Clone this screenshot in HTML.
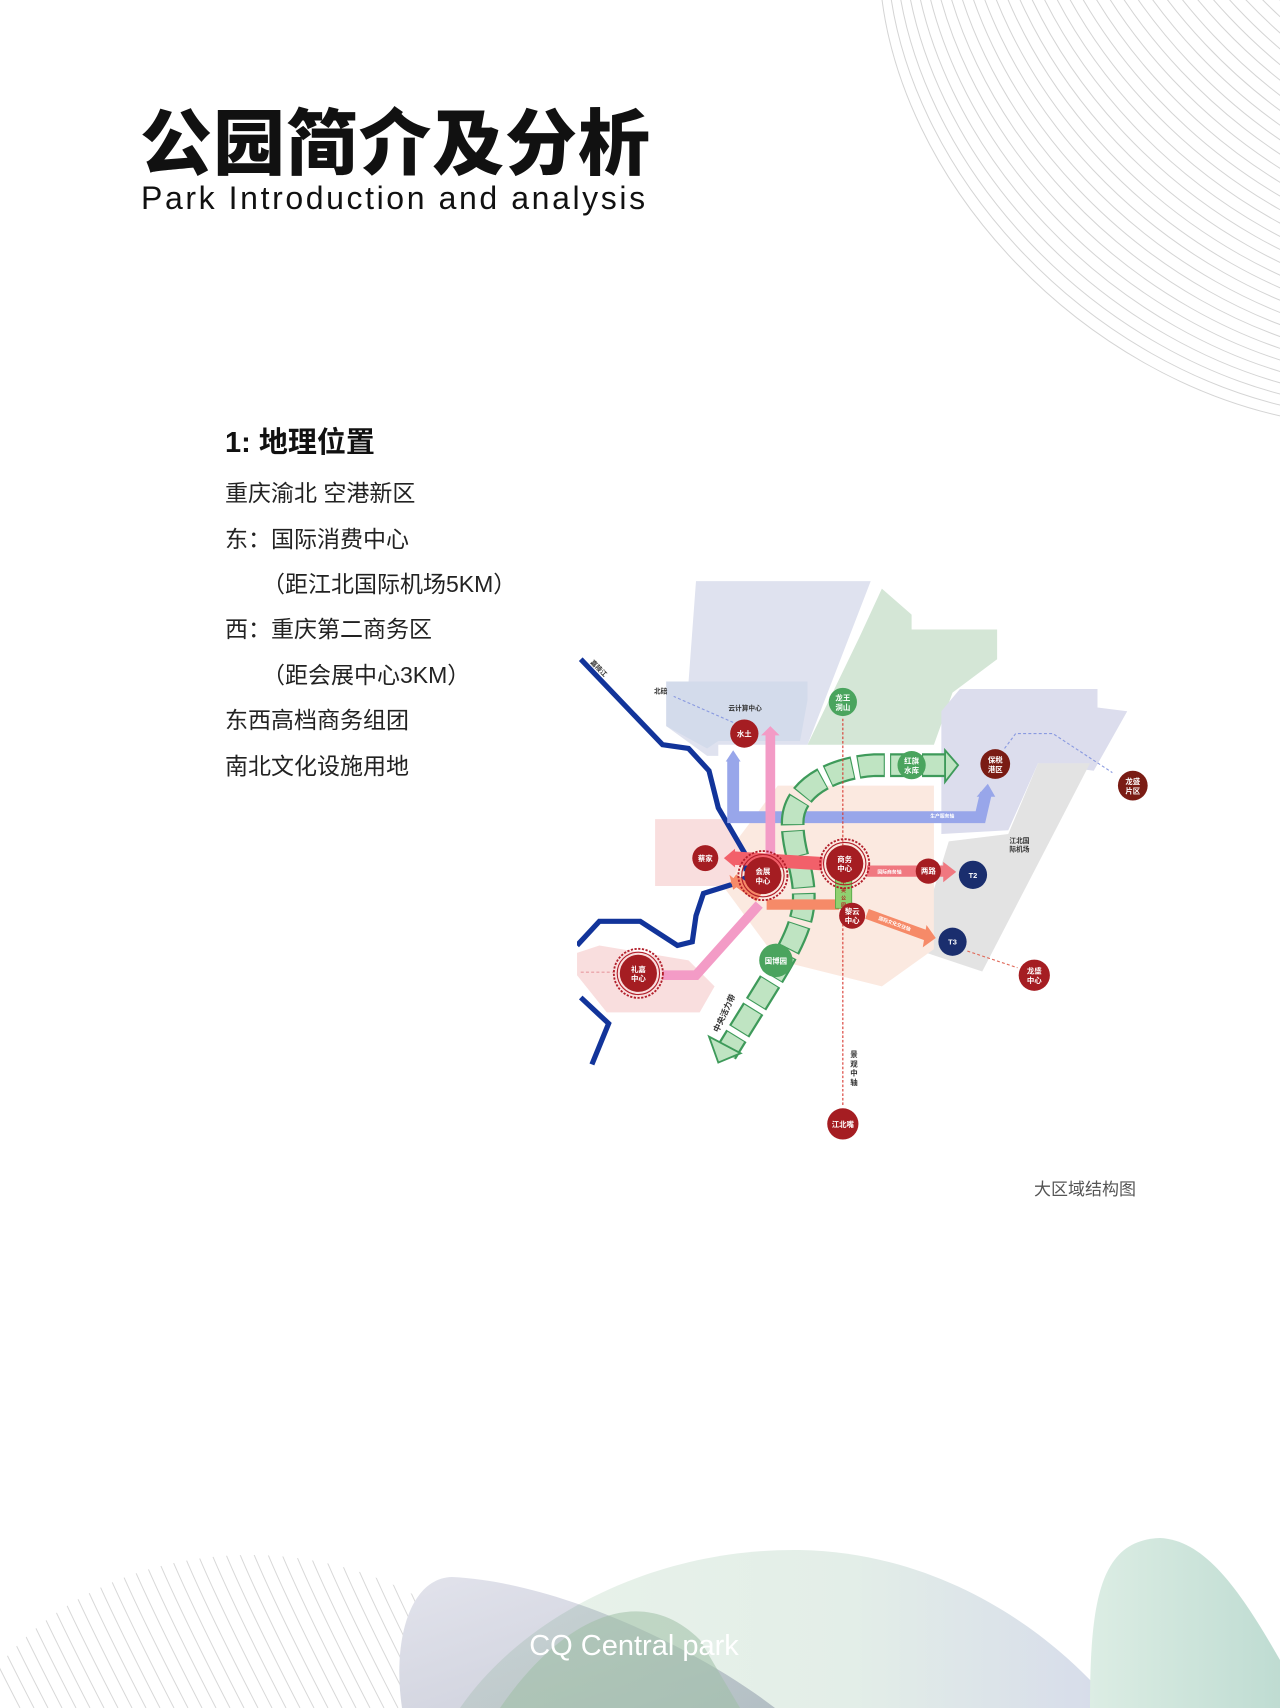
<!DOCTYPE html>
<html style="width:1280px;height:1708px;overflow:hidden;margin:0"><head><meta charset="utf-8"><style>
html,body{margin:0;padding:0;background:#fff;}
body{width:1280px;height:1708px;position:relative;overflow:hidden;font-family:"Liberation Sans","Noto Sans CJK SC",sans-serif;}
.abs{position:absolute;}
.t{position:absolute;left:225px;font-size:23px;color:#222;white-space:nowrap;line-height:30px;}
</style></head><body>

<svg class="abs" style="left:0;top:0" width="1280" height="1708" viewBox="0 0 1280 1708">
 <defs>
  <path id="tr" d="M880,-20 C895,180 1080,380 1300,420" fill="none" stroke="#d4d4d4" stroke-width="1"/>
  <path id="bl" d="M-60,1540 C-40,1590 -10,1650 20,1708" fill="none" stroke="#d8d8d8" stroke-width="1"/>
  <linearGradient id="g1" x1="0" y1="0" x2="1" y2="1"><stop offset="0" stop-color="#e2e3ec"/><stop offset="1" stop-color="#c9ccd8"/></linearGradient>
  <linearGradient id="g2" x1="0" y1="0" x2="1" y2="0"><stop offset="0" stop-color="#e9f3ea"/><stop offset="0.6" stop-color="#e3eee8"/><stop offset="1" stop-color="#d6dbea"/></linearGradient>
  <linearGradient id="g3" x1="0" y1="0" x2="1" y2="0"><stop offset="0" stop-color="#dcede4"/><stop offset="1" stop-color="#bfdcd2"/></linearGradient>
  <clipPath id="ctr"><rect x="880" y="0" width="400" height="420"/></clipPath>
  <clipPath id="cbl"><ellipse cx="250" cy="1800" rx="300" ry="245"/></clipPath>
 </defs>
 <g clip-path="url(#ctr)">
  <use href="#tr"/><use href="#tr" transform="translate(8,-9)"/><use href="#tr" transform="translate(16,-18)"/><use href="#tr" transform="translate(24,-27)"/><use href="#tr" transform="translate(32,-36)"/><use href="#tr" transform="translate(40,-45)"/><use href="#tr" transform="translate(48,-54)"/><use href="#tr" transform="translate(56,-63)"/><use href="#tr" transform="translate(64,-72)"/><use href="#tr" transform="translate(72,-81)"/><use href="#tr" transform="translate(80,-90)"/><use href="#tr" transform="translate(88,-99)"/><use href="#tr" transform="translate(96,-108)"/><use href="#tr" transform="translate(104,-117)"/><use href="#tr" transform="translate(112,-126)"/><use href="#tr" transform="translate(120,-135)"/><use href="#tr" transform="translate(128,-144)"/><use href="#tr" transform="translate(136,-153)"/><use href="#tr" transform="translate(144,-162)"/><use href="#tr" transform="translate(152,-171)"/><use href="#tr" transform="translate(160,-180)"/><use href="#tr" transform="translate(168,-189)"/><use href="#tr" transform="translate(176,-198)"/><use href="#tr" transform="translate(184,-207)"/><use href="#tr" transform="translate(192,-216)"/><use href="#tr" transform="translate(200,-225)"/><use href="#tr" transform="translate(208,-234)"/><use href="#tr" transform="translate(216,-243)"/><use href="#tr" transform="translate(224,-252)"/><use href="#tr" transform="translate(232,-261)"/><use href="#tr" transform="translate(240,-270)"/><use href="#tr" transform="translate(248,-279)"/><use href="#tr" transform="translate(256,-288)"/><use href="#tr" transform="translate(264,-297)"/><use href="#tr" transform="translate(272,-306)"/><use href="#tr" transform="translate(280,-315)"/><use href="#tr" transform="translate(288,-324)"/><use href="#tr" transform="translate(296,-333)"/><use href="#tr" transform="translate(304,-342)"/><use href="#tr" transform="translate(312,-351)"/>
 </g>
 <g clip-path="url(#cbl)">
  <use href="#bl" transform="translate(0,0)"/><use href="#bl" transform="translate(14,0)"/><use href="#bl" transform="translate(28,0)"/><use href="#bl" transform="translate(42,0)"/><use href="#bl" transform="translate(56,0)"/><use href="#bl" transform="translate(70,0)"/><use href="#bl" transform="translate(84,0)"/><use href="#bl" transform="translate(98,0)"/><use href="#bl" transform="translate(112,0)"/><use href="#bl" transform="translate(126,0)"/><use href="#bl" transform="translate(140,0)"/><use href="#bl" transform="translate(154,0)"/><use href="#bl" transform="translate(168,0)"/><use href="#bl" transform="translate(182,0)"/><use href="#bl" transform="translate(196,0)"/><use href="#bl" transform="translate(210,0)"/><use href="#bl" transform="translate(224,0)"/><use href="#bl" transform="translate(238,0)"/><use href="#bl" transform="translate(252,0)"/><use href="#bl" transform="translate(266,0)"/><use href="#bl" transform="translate(280,0)"/><use href="#bl" transform="translate(294,0)"/><use href="#bl" transform="translate(308,0)"/><use href="#bl" transform="translate(322,0)"/><use href="#bl" transform="translate(336,0)"/><use href="#bl" transform="translate(350,0)"/><use href="#bl" transform="translate(364,0)"/><use href="#bl" transform="translate(378,0)"/><use href="#bl" transform="translate(392,0)"/><use href="#bl" transform="translate(406,0)"/><use href="#bl" transform="translate(420,0)"/><use href="#bl" transform="translate(434,0)"/><use href="#bl" transform="translate(448,0)"/><use href="#bl" transform="translate(462,0)"/><use href="#bl" transform="translate(476,0)"/><use href="#bl" transform="translate(490,0)"/><use href="#bl" transform="translate(504,0)"/><use href="#bl" transform="translate(518,0)"/><use href="#bl" transform="translate(532,0)"/><use href="#bl" transform="translate(546,0)"/><use href="#bl" transform="translate(560,0)"/><use href="#bl" transform="translate(574,0)"/><use href="#bl" transform="translate(588,0)"/>
 </g>
 <g style="isolation:isolate">
  <path d="M460,1708 C520,1620 650,1548 800,1550 C950,1553 1060,1640 1115,1708 Z" fill="url(#g2)"/>
  <path d="M402,1708 C392,1640 410,1578 452,1577 C560,1582 700,1650 775,1708 Z" fill="url(#g1)" style="mix-blend-mode:multiply"/>
  <path d="M500,1708 C560,1620 640,1580 700,1640 L740,1708 Z" fill="#9fc0a6" opacity="0.55"/>
  <path d="M1090,1708 C1090,1600 1100,1540 1160,1538 C1205,1540 1240,1590 1280,1660 L1280,1708 Z" fill="url(#g3)"/>
 </g>
 <text x="634" y="1655" text-anchor="middle" font-family="Liberation Sans, sans-serif" font-size="29" fill="#fff">CQ  Central park</text>
</svg>

<div class="abs" style="left:140px;top:96px;font-size:72px;font-weight:900;color:#111;letter-spacing:1px;font-family:'Noto Sans CJK SC',sans-serif;line-height:84px;">公园简介及分析</div>
<div class="abs" style="left:141px;top:178px;font-size:32px;color:#111;letter-spacing:2.6px;line-height:40px;">Park Introduction and analysis</div>

<div class="abs" style="left:225px;top:423px;font-size:29px;font-weight:bold;color:#111;line-height:40px;font-family:'Liberation Sans','Noto Sans CJK SC',sans-serif;">1: 地理位置</div>
<div class="t" style="top:478px">重庆渝北 空港新区</div>
<div class="t" style="top:524px">东：国际消费中心</div>
<div class="t" style="top:569px;left:262px">（距江北国际机场5KM）</div>
<div class="t" style="top:614px">西：重庆第二商务区</div>
<div class="t" style="top:660px;left:262px">（距会展中心3KM）</div>
<div class="t" style="top:705px">东西高档商务组团</div>
<div class="t" style="top:751px">南北文化设施用地</div>

<div class="abs" style="left:1034px;top:1175px;font-size:17px;color:#555;">大区域结构图</div>

<svg class="abs" style="left:577px;top:570px" width="580" height="600" viewBox="0 0 1560 1614" font-family="Liberation Sans, Noto Sans CJK SC, sans-serif" font-weight="bold">
 <polygon points="320,30 790,30 620,470 380,470 380,500 350,500 240,420 240,300 300,300" fill="#dfe2ef"/>
 <polygon points="240,300 620,300 620,350 600,460 380,460 350,480 240,420" fill="#d3dbeb"/>
 <polygon points="820,50 900,120 900,160 1130,160 1130,240 1010,330 960,470 620,470 760,180" fill="#d4e6d6"/>
 <polygon points="980,380 1030,320 1400,320 1400,370 1480,380 1390,540 1240,520 1160,700 980,710" fill="#dcdded"/>
 <polygon points="1240,520 1380,520 1090,1080 910,1020 1000,730 1160,710" fill="#e3e3e3"/>
 <polygon points="540,580 960,580 960,1020 820,1120 540,1050 400,860 420,740" fill="#fbe9e0"/>
 <polygon points="210,670 400,670 450,760 410,850 210,850 210,750" fill="#f9dede"/>
 <polygon points="60,1010 300,1050 370,1120 330,1190 80,1190 0,1090 0,1030" fill="#f9dede"/>
 <g fill="none" stroke="#12349a" stroke-width="14" stroke-linejoin="miter">
  <polyline points="10,240 230,470 300,480 355,540 380,640 450,760 455,810"/>
  <polyline points="0,1010 60,945 170,945 270,1010 310,1000 320,930 340,870 420,845 460,825"/>
  <polyline points="10,1150 85,1220 40,1330"/>
 </g>
 <g fill="none" stroke-dasharray="8 6" stroke-width="3">
  <path d="M420,410 L260,340" stroke="#8a9ae0"/>
  <path d="M1150,480 L1180,440 L1280,440 L1440,545" stroke="#8a9ae0"/>
  <path d="M1050,1025 L1185,1070" stroke="#e06a5a"/>
  <path d="M10,1082 L110,1082" stroke="#e89aa0"/>
 </g>
 <path d="M420,510 L420,665 L1085,665 L1100,600" fill="none" stroke="#98a6ea" stroke-width="32"/>
 <polygon points="400,515 440,515 420,485" fill="#98a6ea"/>
 <polygon points="1075,610 1125,610 1105,575" fill="#98a6ea"/>
 <path d="M520,440 L520,790" stroke="#f39bc6" stroke-width="26"/>
 <polygon points="495,445 545,445 520,420" fill="#f39bc6"/>
 <g fill="none" stroke-linecap="butt" stroke-linejoin="round">
  <path d="M1000,525 L800,525 C700,530 580,580 580,680 C580,760 610,800 610,880 C610,980 540,1070 400,1300" stroke="#3e9a5a" stroke-width="64" stroke-dasharray="72 14"/>
  <path d="M1000,525 L800,525 C700,530 580,580 580,680 C580,760 610,800 610,880 C610,980 540,1070 400,1300" stroke="#bfe4c2" stroke-width="52" stroke-dasharray="66 20" stroke-dashoffset="-3"/>
 </g>
 <polygon points="990,485 1025,525 990,570" fill="#bfe4c2" stroke="#3e9a5a" stroke-width="5"/>
 <polygon points="355,1255 440,1300 380,1325" fill="#bfe4c2" stroke="#3e9a5a" stroke-width="5"/>
 <path d="M420,775 L660,790" stroke="#f2606a" stroke-width="36"/>
 <polygon points="425,750 425,800 395,775" fill="#f2606a"/>
 <path d="M780,810 L990,810" stroke="#f07880" stroke-width="30"/>
 <polygon points="985,785 985,840 1020,812" fill="#f07880"/>
 <path d="M510,900 L705,900 M420,830 L490,880" stroke="#f68a68" stroke-width="28"/>
 <polygon points="410,820 440,845 420,860" fill="#f68a68"/>
 <path d="M780,925 L945,985" stroke="#f68a68" stroke-width="28"/>
 <polygon points="940,955 965,990 930,1015" fill="#f68a68"/>
 <path d="M230,1090 L320,1090 L490,900" fill="none" stroke="#f39bc6" stroke-width="26"/>
 <path d="M715,400 L715,1440" stroke="#d83a32" stroke-width="3" stroke-dasharray="7 5"/>
 <rect x="695" y="820" width="44" height="90" fill="#8fd070" stroke="#4aa040" stroke-width="2"/>
 <text x="717" y="845" font-size="13" fill="#b02020" text-anchor="middle">中</text>
 <text x="717" y="866" font-size="13" fill="#b02020" text-anchor="middle">央</text>
 <text x="717" y="887" font-size="13" fill="#b02020" text-anchor="middle">公</text>
 <text x="717" y="905" font-size="13" fill="#b02020" text-anchor="middle">园</text>
 <g fill="none" stroke="#b21e2a" stroke-width="5" stroke-dasharray="6 4">
  <circle cx="500" cy="822" r="66"/><circle cx="720" cy="790" r="66"/><circle cx="165" cy="1085" r="66"/>
 </g>
 <g fill="none" stroke="#b21e2a" stroke-width="3">
  <circle cx="500" cy="822" r="57"/><circle cx="720" cy="790" r="57"/><circle cx="165" cy="1085" r="57"/>
 </g>
 <g fill="#a51d22">
  <circle cx="450" cy="440" r="38"/><circle cx="345" cy="775" r="35"/><circle cx="500" cy="822" r="50"/><circle cx="720" cy="790" r="50"/>
  <circle cx="945" cy="810" r="34"/><circle cx="740" cy="930" r="35"/><circle cx="1230" cy="1090" r="42"/><circle cx="165" cy="1085" r="50"/><circle cx="715" cy="1490" r="42"/>
 </g>
 <g fill="#7a1c14"><circle cx="1125" cy="522" r="40"/><circle cx="1495" cy="580" r="40"/></g>
 <g fill="#4aa45e"><circle cx="715" cy="355" r="38"/><circle cx="900" cy="525" r="38"/><circle cx="535" cy="1050" r="45"/></g>
 <g fill="#1a2e6e"><circle cx="1065" cy="820" r="38"/><circle cx="1010" cy="1000" r="38"/></g>
 <g fill="#fff" font-size="20" text-anchor="middle">
  <text x="450" y="448">水土</text><text x="345" y="783">蔡家</text>
  <text x="500" y="818">会展</text><text x="500" y="843">中心</text>
  <text x="720" y="786">商务</text><text x="720" y="810">中心</text>
  <text x="945" y="817">两路</text>
  <text x="740" y="926">黎云</text><text x="740" y="950">中心</text>
  <text x="1230" y="1086">龙盛</text><text x="1230" y="1111">中心</text>
  <text x="165" y="1081">礼嘉</text><text x="165" y="1106">中心</text>
  <text x="715" y="1498">江北嘴</text>
  <text x="1125" y="518">保税</text><text x="1125" y="543">港区</text>
  <text x="1495" y="576">龙盛</text><text x="1495" y="601">片区</text>
  <text x="715" y="351">龙王</text><text x="715" y="376">洞山</text>
  <text x="900" y="521">红旗</text><text x="900" y="546">水库</text>
  <text x="535" y="1058">国博园</text>
  <text x="1065" y="828">T2</text><text x="1010" y="1008">T3</text>
 </g>
 <g fill="#333" font-size="18">
  <text x="225" y="332" text-anchor="middle">北碚</text>
  <text x="452" y="378" text-anchor="middle">云计算中心</text>
  <text x="1190" y="735" text-anchor="middle">江北国</text>
  <text x="1190" y="757" text-anchor="middle">际机场</text>
  <text transform="translate(35,250) rotate(45)">嘉陵江</text>
  <text transform="translate(380,1245) rotate(-65)" font-size="22">中央活力带</text>
 </g>
 <g fill="#333" font-size="20" text-anchor="middle">
  <text x="745" y="1310">景</text><text x="745" y="1335">观</text><text x="745" y="1360">中</text><text x="745" y="1385">轴</text>
 </g>
 <g fill="#fff" font-size="13">
  <text x="950" y="666">生产服务轴</text>
  <text x="808" y="816">国际商务轴</text>
  <text transform="translate(810,940) rotate(20)">国际文化交往轴</text>
 </g>
</svg>
</body></html>
